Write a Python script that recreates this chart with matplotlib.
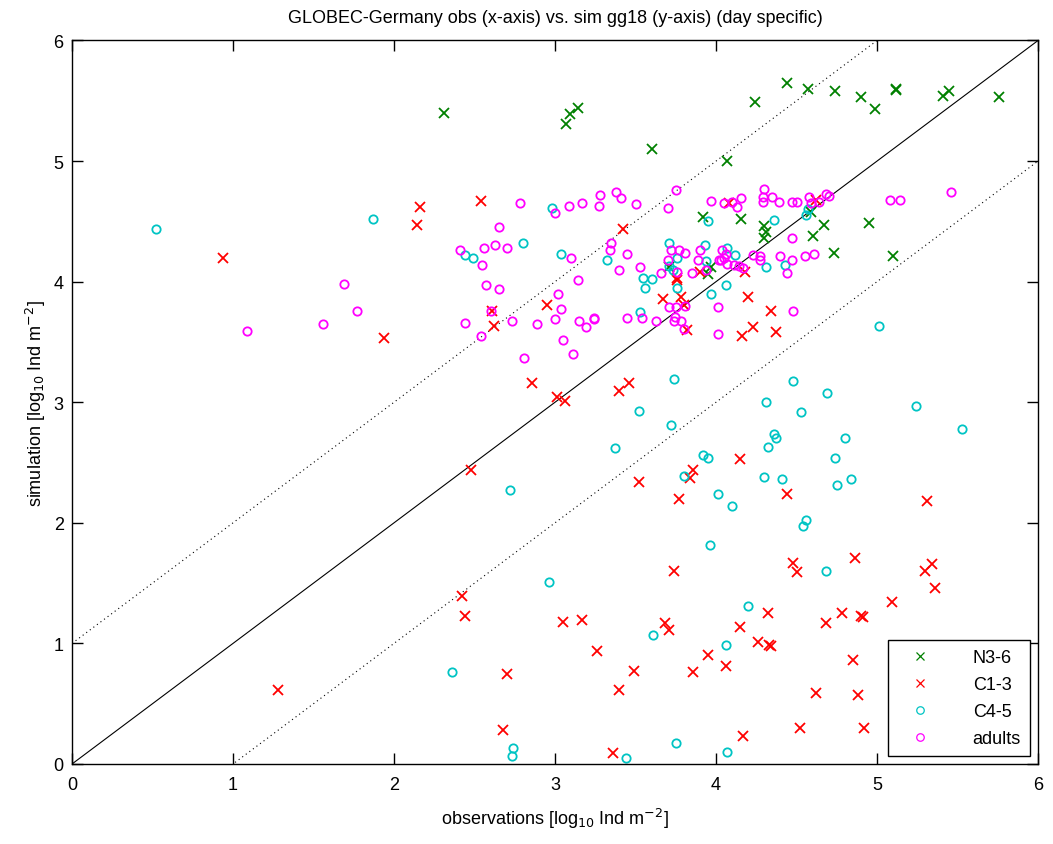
import numpy as np
import matplotlib
matplotlib.use("Agg")
import matplotlib.pyplot as plt

plt.rcParams['font.family'] = ['Liberation Sans', 'DejaVu Sans']

# --- data: (observation, simulation) in log10 Ind m^-2 ---
n36_obs = [2.31, 3.09, 3.14, 3.07, 3.60, 4.24, 4.44, 4.57, 4.74, 4.90, 4.99, 5.12, 5.12,
           5.41, 5.45, 5.76, 4.07, 3.92, 4.155, 4.59, 4.67, 4.95, 4.30, 4.31, 4.30, 4.60,
           4.73, 5.10, 3.71, 3.97, 3.95]
n36_sim = [5.40, 5.39, 5.44, 5.31, 5.10, 5.49, 5.65, 5.60, 5.58, 5.53, 5.43, 5.60, 5.59,
           5.54, 5.58, 5.53, 5.00, 4.54, 4.52, 4.58, 4.47, 4.49, 4.46, 4.41, 4.36, 4.38,
           4.24, 4.21, 4.12, 4.12, 4.06]

c13_obs = [0.94, 1.94, 1.28, 2.16, 2.14, 2.54, 3.42, 3.76, 3.76, 3.90, 4.08, 4.62, 4.18,
           2.95, 2.61, 2.62, 3.67, 3.78, 3.80, 3.82, 2.86, 3.01, 3.06, 3.40, 3.46, 3.86,
           3.84, 2.48, 3.52, 3.77, 4.20, 4.34, 4.23, 4.16, 4.37, 4.15, 4.44, 5.31, 3.74,
           2.42, 2.44, 3.05, 3.17, 3.68, 3.71, 3.26, 3.95, 3.86, 3.49, 2.70, 3.40, 2.675,
           3.36, 4.48, 4.50, 4.86, 5.30, 5.34, 5.36, 5.09, 4.32, 4.78, 4.90, 4.91, 4.68,
           4.15, 4.26, 4.33, 4.34, 4.06, 4.85, 4.62, 4.88, 4.52, 4.92, 4.17]
c13_sim = [4.20, 3.53, 0.61, 4.62, 4.47, 4.67, 4.44, 4.01, 4.03, 4.08, 4.65, 4.68, 4.08,
           3.81, 3.76, 3.63, 3.86, 3.87, 3.81, 3.60, 3.16, 3.04, 3.01, 3.09, 3.16, 2.44,
           2.37, 2.44, 2.34, 2.20, 3.87, 3.76, 3.62, 3.55, 3.58, 2.53, 2.24, 2.18, 1.60,
           1.39, 1.23, 1.18, 1.19, 1.17, 1.11, 0.94, 0.90, 0.76, 0.77, 0.75, 0.61, 0.28,
           0.09, 1.67, 1.59, 1.71, 1.60, 1.66, 1.46, 1.34, 1.25, 1.25, 1.23, 1.22, 1.17,
           1.14, 1.01, 0.99, 0.98, 0.81, 0.86, 0.59, 0.57, 0.30, 0.30, 0.23]

c45_obs = [0.52, 1.87, 2.98, 3.95, 2.44, 2.49, 2.80, 3.04, 3.32, 3.545, 3.60, 3.71, 3.76,
           3.71, 3.735, 3.93, 3.94, 4.36, 4.57, 4.56, 4.07, 4.12, 4.31, 4.43, 4.06, 3.53,
           3.56, 3.76, 3.97, 3.74, 3.52, 3.72, 3.37, 3.92, 3.95, 3.80, 2.72, 4.01, 5.01,
           4.48, 4.69, 4.31, 4.53, 5.24, 5.53, 4.36, 4.37, 4.32, 4.80, 4.74, 4.30, 4.41,
           4.75, 4.84, 4.10, 4.56, 4.54, 3.96, 2.96, 3.61, 2.36, 2.74, 2.73, 3.44, 3.75,
           4.68, 4.20, 4.06, 4.07]
c45_sim = [4.44, 4.52, 4.61, 4.50, 4.22, 4.20, 4.32, 4.23, 4.18, 4.03, 4.02, 4.32, 4.20,
           4.13, 4.10, 4.30, 4.17, 4.51, 4.60, 4.55, 4.28, 4.22, 4.12, 4.14, 3.97, 3.75,
           3.95, 3.95, 3.90, 3.19, 2.93, 2.81, 2.62, 2.56, 2.54, 2.39, 2.27, 2.24, 3.63,
           3.18, 3.08, 3.00, 2.92, 2.97, 2.78, 2.74, 2.70, 2.63, 2.70, 2.54, 2.38, 2.36,
           2.31, 2.36, 2.14, 2.02, 1.97, 1.82, 1.51, 1.07, 0.76, 0.13, 0.07, 0.05, 0.17,
           1.60, 1.31, 0.99, 0.10]

adu_obs = [1.69, 1.085, 1.557, 1.77, 2.78, 3.00, 3.085, 3.17, 3.27, 3.28, 3.38, 3.41, 3.50,
           3.70, 3.75, 3.97, 2.65, 2.41, 2.56, 2.63, 2.70, 2.545, 2.57, 3.10, 3.14, 3.35,
           3.34, 3.45, 3.40, 3.53, 3.66, 3.72, 3.77, 3.81, 3.70, 3.76, 3.85, 3.89, 3.90,
           3.94, 4.02, 4.05, 4.10, 4.13, 4.155, 4.30, 4.29, 4.29, 4.35, 4.39, 4.47, 4.50,
           4.58, 4.59, 4.64, 4.68, 4.70, 5.08, 5.14, 5.46, 4.47, 4.04, 4.06, 4.05, 4.03,
           4.07, 4.11, 4.145, 4.17, 4.23, 4.27, 4.27, 4.40, 4.47, 4.44, 4.55, 4.61, 2.65,
           3.02, 2.60, 3.04, 2.44, 2.73, 2.89, 3.00, 3.15, 3.19, 3.24, 3.24, 2.54, 3.05,
           2.81, 3.11, 3.45, 3.54, 3.63, 3.71, 3.75, 3.81, 3.745, 3.74, 3.78, 3.80, 4.01,
           4.01, 4.48]
adu_sim = [3.98, 3.59, 3.65, 3.76, 4.65, 4.57, 4.63, 4.65, 4.63, 4.72, 4.74, 4.69, 4.64,
           4.61, 4.76, 4.67, 4.45, 4.26, 4.28, 4.30, 4.28, 4.14, 3.97, 4.20, 4.01, 4.32,
           4.26, 4.23, 4.10, 4.12, 4.07, 4.26, 4.26, 4.24, 4.18, 4.08, 4.07, 4.18, 4.26,
           4.10, 4.18, 4.65, 4.66, 4.62, 4.69, 4.77, 4.70, 4.66, 4.70, 4.66, 4.66, 4.66,
           4.70, 4.65, 4.66, 4.73, 4.71, 4.68, 4.68, 4.74, 4.36, 4.26, 4.23, 4.20, 4.18,
           4.15, 4.14, 4.13, 4.11, 4.22, 4.21, 4.18, 4.21, 4.18, 4.07, 4.21, 4.23, 3.94,
           3.90, 3.76, 3.77, 3.66, 3.67, 3.65, 3.69, 3.67, 3.62, 3.69, 3.70, 3.55, 3.52,
           3.37, 3.40, 3.70, 3.70, 3.67, 3.79, 3.79, 3.80, 3.71, 3.67, 3.67, 3.61, 3.79,
           3.57, 3.76]

fig = plt.figure(figsize=(10.53, 8.45), dpi=100)
ax = fig.add_axes([0.0684, 0.0947, 0.9174, 0.8562])

# 1:1 line and +/- one order of magnitude
lim = np.array([0, 6])
ax.plot(lim, lim, color='k', lw=0.8)
ax.plot(lim, lim + 1, color='k', lw=0.8, ls=(0, (1, 3)))
ax.plot(lim, lim - 1, color='k', lw=0.8, ls=(0, (1, 3)))

ax.plot(n36_obs, n36_sim, 'x', color='#008000', ms=7, mew=1.3, label='N3-6')
ax.plot(c13_obs, c13_sim, 'x', color='#ff0000', ms=7, mew=1.3, label='C1-3')
ax.plot(c45_obs, c45_sim, 'o', color='#00c4c4', ms=6, mew=1.3, mfc='none', label='C4-5')
ax.plot(adu_obs, adu_sim, 'o', color='#ff00ff', ms=6, mew=1.3, mfc='none', label='adults')

ax.set_xlim(0, 6)
ax.set_ylim(0, 6)
ax.set_xticks(range(7))
ax.set_yticks(range(7))
ax.tick_params(direction='in', length=8, width=1, top=True, right=True, labelsize=13)
ax.tick_params(axis='x', pad=9)
ax.tick_params(axis='y', pad=6)
for s in ax.spines.values():
    s.set_linewidth(1)

ax.set_xlabel('observations [log$_{10}$ Ind m$^{-2}$]', fontsize=13, labelpad=9)
ax.set_ylabel('simulation [log$_{10}$ Ind m$^{-2}$]', fontsize=13)
ax.set_title('GLOBEC-Germany obs (x-axis) vs. sim gg18 (y-axis) (day specific)', fontsize=13, pad=13)

leg = ax.legend(loc='lower right', fontsize=13, fancybox=False, framealpha=1,
                edgecolor='k', borderaxespad=0.45, borderpad=0.5, labelspacing=0.55,
                handlelength=2.6, handletextpad=1.6, markerscale=0.9)
leg.get_frame().set_linewidth(1)
for h in leg.legend_handles:
    h.set_markeredgewidth(0.9)

fig.savefig('out.png', dpi=100)
